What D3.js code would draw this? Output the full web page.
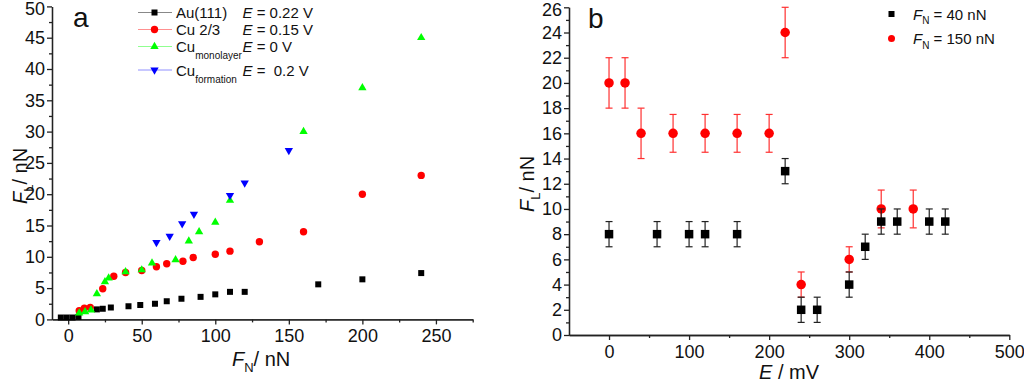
<!DOCTYPE html>
<html>
<head>
<meta charset="utf-8">
<script src="https://cdn.jsdelivr.net/npm/d3@7"></script>
<style>
body { margin: 0; background: #fff; }
svg text { font-family: "Liberation Sans", Arial, sans-serif; fill: #111; }
.axis path, .axis line { stroke: #222; stroke-width: 1.3; }
.axis text { font-size: 18px; fill: #111; }
</style>
</head>
<body>
<svg id="chart" width="1024" height="383"></svg>
<script>
// ---- panel a : F_L vs F_N ----
const auFN = [-5, -1, 3, 7, 19.5, 23.5, 29, 41, 49, 59, 67, 77, 90, 100, 110, 120, 170, 200, 240]
const auFL = [0.3, 0.3, 0.3, 0.4, 1.6, 1.7, 1.9, 2.1, 2.3, 2.5, 2.9, 3.3, 3.6, 4.0, 4.4, 4.4, 5.6, 6.4, 7.4]
const cu23FN = [7.5, 11, 15, 23.5, 31, 39, 50, 60, 67, 78, 85, 100, 110, 130, 160, 200, 240]
const cu23FL = [1.4, 1.8, 1.9, 4.9, 6.9, 7.5, 7.8, 8.4, 8.9, 9.3, 9.9, 10.4, 10.9, 12.4, 14, 20, 23]
const monoFN = [7.5, 11.5, 15.5, 19.5, 25, 27.5, 39, 50, 57, 73, 82, 89, 100, 110, 160, 200, 240]
const monoFL = [1.0, 1.2, 1.5, 4.1, 6.0, 6.6, 7.6, 7.9, 9.0, 9.5, 12.5, 14, 15.5, 19, 30, 37, 45]
const formFN = [60, 69, 77.5, 85.5, 110, 120, 150]
const formFL = [12.3, 13.3, 15.3, 16.8, 19.8, 21.8, 27]

// ---- panel b : F_L vs E ----
const e40 = [0, 60, 100, 120, 160, 220, 240, 260, 300, 320, 340, 360, 400, 420]
const fl40 = [8, 8, 8, 8, 8, 13, 2, 2, 4, 7, 9, 9, 9, 9]
const err40 = [1, 1, 1, 1, 1, 1, 1, 1, 1, 1, 1, 1, 1, 1]
const e150 = [0, 20, 40, 80, 120, 160, 200, 220, 240, 300, 340, 380]
const fl150 = [20, 20, 16, 16, 16, 16, 16, 24, 4, 6, 10, 10]
const err150 = [2, 2, 2, 1.5, 1.5, 1.5, 1.5, 2, 1, 1, 1.5, 1.5]

const svg = d3.select('#chart')

// subscripted label helper: main (italic), sub, rest
function subLabel(sel, main, sub, rest, size, subSize) {
  sel.append('tspan').attr('font-style', 'italic').attr('font-size', size).text(main)
  sel.append('tspan').attr('font-size', subSize).attr('dy', size * 0.3).text(sub)
  if (rest) sel.append('tspan').attr('font-size', size).attr('dy', -size * 0.3).text(rest)
}

function drawAxes(g, x, y, xMajor, xMinor, yMajor, yMinor) {
  const x0 = x.range()[0]
  const y0 = y.range()[0]
  const yTop = d3.max(yMajor)
  g.append('g').attr('class', 'axis').attr('transform', `translate(0,${y0})`)
    .call(d3.axisBottom(x).tickValues(xMajor).tickSize(5).tickSizeOuter(0).tickPadding(5))
  g.append('g').attr('class', 'axis').attr('transform', `translate(0,${y0})`)
    .call(d3.axisBottom(x).tickValues(xMinor).tickSize(3).tickSizeOuter(0).tickFormat(''))
  g.append('g').attr('class', 'axis').attr('transform', `translate(${x0},0)`)
    .call(d3.axisLeft(y).tickValues(yMajor).tickSize(5).tickSizeOuter(0).tickPadding(2))
    .selectAll('.tick text').filter(d => d === yTop).attr('dy', '0.45em')
  g.append('g').attr('class', 'axis').attr('transform', `translate(${x0},0)`)
    .call(d3.axisLeft(y).tickValues(yMinor).tickSize(3).tickSizeOuter(0).tickFormat(''))
}

// ================= panel a =================
const xa = d3.scaleLinear().domain([-11, 275]).range([52, 472.7])
const ya = d3.scaleLinear().domain([0, 50]).range([319.4, 6.4])
const ga = svg.append('g')

drawAxes(ga, xa, ya,
  d3.range(0, 251, 50), d3.range(25, 276, 50),
  d3.range(0, 51, 5), d3.range(2.5, 50, 5))

const tri = d3.symbol().type(d3.symbolTriangle).size(30)

const seriesA = [
  { fn: auFN, fl: auFL, color: '#000', shape: 'square', line: '#888' },
  { fn: cu23FN, fl: cu23FL, color: '#ff0000', shape: 'circle', line: '#ff9090' },
  { fn: monoFN, fl: monoFL, color: '#00ff00', shape: 'up', line: '#90ff90' },
  { fn: formFN, fl: formFL, color: '#0000ff', shape: 'down', line: '#9090ff' }
]

function marker(g, shape, color, cx, cy, s) {
  if (shape === 'square') {
    g.append('rect').attr('x', cx - s / 2).attr('y', cy - s / 2)
      .attr('width', s).attr('height', s).attr('fill', color)
  } else if (shape === 'circle') {
    g.append('circle').attr('cx', cx).attr('cy', cy).attr('r', s / 2).attr('fill', color)
  } else {
    g.append('path').attr('d', tri)
      .attr('transform', `translate(${cx},${cy})` + (shape === 'down' ? ' rotate(180)' : ''))
      .attr('fill', color)
  }
}

seriesA.forEach(s => {
  const g = ga.append('g')
  s.fn.forEach((v, i) => {
    const sz = s.shape === 'square' ? 6 : 7.4
    marker(g, s.shape, s.color, xa(v), ya(s.fl[i]), sz)
  })
})

// legend a
const legA = [
  { name: 'Au(111)', sub: '', e: '0.22 V', y: 12.5 },
  { name: 'Cu 2/3', sub: '', e: '0.15 V', y: 29.5 },
  { name: 'Cu', sub: 'monolayer', e: '0 V', y: 46.5 },
  { name: 'Cu', sub: 'formation', e: '\u00a00.2 V', y: 70 }
]
legA.forEach((d, i) => {
  const s = seriesA[i]
  const g = ga.append('g')
  g.append('line').attr('x1', 138).attr('x2', 172).attr('y1', d.y).attr('y2', d.y)
    .attr('stroke', s.line).attr('stroke-width', 1)
  marker(g, s.shape, s.color, 154.5, d.y, s.shape === 'square' ? 6 : 7.4)
  const t = g.append('text').attr('x', 176).attr('y', d.y + 5.5).attr('font-size', 15)
  t.append('tspan').text(d.name)
  if (d.sub) t.append('tspan').attr('font-size', 10).attr('dy', 7).text(d.sub)
  const te = g.append('text').attr('x', 242.5).attr('y', d.y + 5.5).attr('font-size', 15)
  te.append('tspan').attr('font-style', 'italic').text('E')
  te.append('tspan').text(' = ' + d.e)
})

ga.append('text').attr('x', 73).attr('y', 27).attr('font-size', 28).text('a')

subLabel(ga.append('text').attr('x', 232).attr('y', 366), 'F', 'N', '/ nN', 20, 13)
subLabel(ga.append('text').attr('transform', 'translate(27,204) rotate(-90)'), 'F', 'L', '/ nN', 20, 13)

// ================= panel b =================
const xb = d3.scaleLinear().domain([-50, 500]).range([569, 1009.3])
const yb = d3.scaleLinear().domain([0, 26]).range([335, 7.3])
const gb = svg.append('g')

drawAxes(gb, xb, yb,
  d3.range(0, 501, 100), d3.range(50, 451, 100),
  d3.range(0, 27, 2), d3.range(1, 26, 2))

function errBars(g, xs, ys, es, color) {
  xs.forEach((v, i) => {
    const cx = xb(v), top = yb(ys[i] + es[i]), bot = yb(ys[i] - es[i])
    g.append('line').attr('x1', cx).attr('x2', cx).attr('y1', top).attr('y2', bot)
      .attr('stroke', color).attr('stroke-width', 1.2)
    ;[top, bot].forEach(yy => g.append('line').attr('x1', cx - 3.5).attr('x2', cx + 3.5)
      .attr('y1', yy).attr('y2', yy).attr('stroke', color).attr('stroke-width', 1.2))
  })
}

const gRed = gb.append('g')
errBars(gRed, e150, fl150, err150, '#ff3030')
e150.forEach((v, i) => marker(gRed, 'circle', '#ff0000', xb(v), yb(fl150[i]), 9.5))

const gBlk = gb.append('g')
errBars(gBlk, e40, fl40, err40, '#222')
e40.forEach((v, i) => marker(gBlk, 'square', '#000', xb(v), yb(fl40[i]), 8.5))

// legend b
const lb = gb.append('g')
marker(lb, 'square', '#000', 891.5, 14, 6)
marker(lb, 'circle', '#ff0000', 891.5, 38.5, 7)
subLabel(lb.append('text').attr('x', 913).attr('y', 19.5), 'F', 'N', ' = 40 nN', 15, 10)
subLabel(lb.append('text').attr('x', 913).attr('y', 44), 'F', 'N', ' = 150 nN', 15, 10)

gb.append('text').attr('x', 588).attr('y', 28).attr('font-size', 28).text('b')

const eLab = gb.append('text').attr('x', 759).attr('y', 379).attr('font-size', 20)
eLab.append('tspan').attr('font-style', 'italic').text('E')
eLab.append('tspan').text(' / mV')
subLabel(gb.append('text').attr('transform', 'translate(534,212) rotate(-90)'), 'F', 'L', '/ nN', 20, 13)
</script>
</body>
</html>
